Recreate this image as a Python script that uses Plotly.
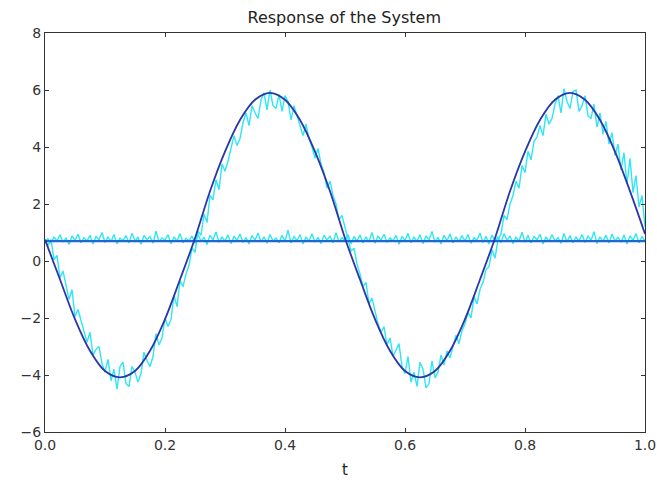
import plotly.graph_objects as go

# Smooth response (read at t step 0.025)
t_smooth = [i * 0.025 for i in range(41)]
y_smooth = [0.75, -0.65, -2.04, -3.15, -3.86, -4.08, -3.86, -3.15, -2.04, -0.65,
            0.8, 2.45, 3.84, 4.95, 5.66, 5.9, 5.66, 4.95, 3.84, 2.45,
            0.8, -0.65, -2.04, -3.15, -3.86, -4.08, -3.86, -3.15, -2.04, -0.65,
            0.8, 2.45, 3.84, 4.95, 5.66, 5.9, 5.66, 4.95, 3.84, 2.45,
            0.95]

# Noisy response (read at t step 0.005)
t_noisy = [i * 0.005 for i in range(201)]
y_noisy = [0.7,
    0.55, 0.75, 0.05, 0.2, -0.6, -0.35, -0.8, -1.35, -1.0, -1.95,
    -1.7, -2.1, -2.4, -2.85, -2.5, -3.3, -3.1, -3.0, -3.6, -3.9,
    -3.45, -4.2, -3.8, -4.5, -3.7, -3.55, -4.3, -4.4, -3.7, -3.9,
    -4.25, -3.95, -3.2, -3.5, -3.7, -3.35, -2.55, -2.95, -2.7, -2.0,
    -2.3, -2.05, -1.2, -1.6, -0.7, -0.9, -0.45, -0.15, 0.45, 0.3,
    1.05, 0.9, 1.65, 1.35, 2.3, 2.15, 2.85, 2.5, 3.4, 3.15,
    3.5, 3.9, 4.4, 4.05, 4.3, 4.85, 5.2, 4.75, 5.45, 5.2,
    5.0, 5.65, 5.9, 5.3, 6.0, 5.45, 5.35, 5.85, 5.25, 5.8,
    5.6, 4.95, 5.45, 5.1, 4.7, 4.4, 4.8, 4.3, 4.0, 3.6,
    3.95, 3.4, 3.1, 2.55, 2.8, 2.3, 2.0, 1.45, 1.6, 1.2,
    0.85, 0.35, 0.45, -0.1, -0.45, -0.9, -0.75, -1.5, -1.3, -1.75,
    -2.2, -2.5, -2.3, -2.95, -2.7, -3.35, -3.1, -2.9, -3.7, -3.95,
    -3.35, -4.25, -3.9, -4.4, -3.55, -3.8, -4.45, -4.3, -3.5, -4.1,
    -3.9, -3.3, -3.65, -3.15, -3.4, -3.0, -2.6, -2.9, -2.45, -2.2,
    -1.8, -2.0, -1.25, -1.5, -1.0, -0.75, -0.3, -0.2, 0.4, 0.1,
    0.75, 0.95, 1.6, 1.45, 2.0, 2.3, 2.8, 2.55, 3.35, 3.1,
    3.85, 3.55, 4.2, 4.35, 4.75, 4.4, 5.15, 4.8, 5.0, 5.5,
    5.8, 5.2, 6.05, 5.6, 5.35, 5.95, 6.0, 5.25, 5.45, 5.8,
    5.1, 5.0, 5.5, 4.7, 5.2, 4.45, 4.9, 4.1, 4.5, 3.7,
    4.1, 3.2, 3.8, 2.7, 3.6, 2.4, 3.0, 1.9, 2.3, 1.2]

# Noisy constant level (read at t step 0.005)
y_flat_noisy = [
    0.7, 0.78, 0.62, 0.85, 0.7, 0.92, 0.66, 0.8, 0.58, 0.88,
    0.72, 0.95, 0.64, 0.82, 0.7, 0.9, 0.6, 0.86, 0.74, 1.0,
    0.65, 0.84, 0.68, 0.93, 0.6, 0.8, 0.72, 0.89, 0.63, 0.97,
    0.7, 0.83, 0.59, 0.9, 0.75, 0.86, 0.62, 1.05, 0.68, 0.81,
    0.73, 0.92, 0.6, 0.85, 0.7, 0.96, 0.64, 0.8, 0.71, 0.88,
    0.62, 0.94, 0.69, 0.83, 0.58, 0.9, 0.74, 1.02, 0.66, 0.84,
    0.7, 0.91, 0.61, 0.87, 0.72, 0.95, 0.65, 0.82, 0.6, 0.89,
    0.73, 0.98, 0.67, 0.85, 0.62, 0.93, 0.7, 0.8, 0.64, 0.9,
    0.69, 1.08, 0.63, 0.86, 0.72, 0.92, 0.6, 0.84, 0.7, 0.96,
    0.66, 0.83, 0.61, 0.9, 0.74, 0.87, 0.64, 0.99, 0.68, 0.82,
    0.71, 0.93, 0.6, 0.86, 0.7, 0.91, 0.63, 0.85, 0.67, 1.0,
    0.62, 0.88, 0.73, 0.94, 0.65, 0.81, 0.7, 0.9, 0.59, 0.86,
    0.72, 0.97, 0.64, 0.84, 0.69, 0.92, 0.61, 0.87, 0.74, 1.04,
    0.66, 0.83, 0.6, 0.9, 0.71, 0.95, 0.63, 0.85, 0.68, 0.89,
    0.7, 0.93, 0.62, 0.82, 0.73, 0.98, 0.65, 0.87, 0.6, 0.91,
    0.69, 0.84, 0.64, 0.96, 0.72, 0.88, 0.61, 0.83, 0.7, 1.01,
    0.66, 0.9, 0.63, 0.86, 0.74, 0.94, 0.6, 0.85, 0.68, 0.92,
    0.71, 0.82, 0.62, 0.97, 0.67, 0.89, 0.64, 0.84, 0.7, 0.93,
    0.65, 0.87, 0.72, 1.03, 0.61, 0.85, 0.69, 0.9, 0.63, 0.95,
    0.7, 0.83, 0.66, 0.91, 0.6, 0.88, 0.73, 0.96, 0.64, 0.86,
    0.7]

# Constant level
t_flat = [0.0, 1.0]
y_flat = [0.7, 0.7]

fig = go.Figure()
fig.add_trace(go.Scatter(x=t_noisy, y=y_flat_noisy, mode="lines",
                         line=dict(color="#2ee6f6", width=1.4), showlegend=False))
fig.add_trace(go.Scatter(x=t_noisy, y=y_noisy, mode="lines",
                         line=dict(color="#2ee6f6", width=1.4), showlegend=False))
fig.add_trace(go.Scatter(x=t_flat, y=y_flat, mode="lines",
                         line=dict(color="#1f68d4", width=2.2), showlegend=False))
fig.add_trace(go.Scatter(x=t_smooth, y=y_smooth, mode="lines", line_shape="spline",
                         line=dict(color="#2b36a8", width=1.8), showlegend=False))

axis_common = dict(showgrid=False, zeroline=False, showline=True, linecolor="#333",
                   linewidth=1.2, mirror="allticks", ticks="inside", ticklen=4,
                   tickcolor="#333", automargin=False,
                   tickfont=dict(family="DejaVu Sans", size=14, color="#333"))

fig.update_layout(
    width=657, height=483,
    margin=dict(l=45, r=12, t=33, b=51),
    paper_bgcolor="white", plot_bgcolor="white",
    title=dict(text="Response of the System", x=0.524, xanchor="center", y=0.965,
               yanchor="middle", font=dict(family="DejaVu Sans", size=16, color="#222")),
    xaxis=dict(range=[0, 1], dtick=0.2, tick0=0, tickformat=".1f",
               title=dict(text="t", font=dict(family="DejaVu Sans", size=15, color="#222"),
                          standoff=12),
               **axis_common),
    yaxis=dict(range=[-6, 8], dtick=2, tick0=0, **axis_common),
)

fig.write_html("out.html")
